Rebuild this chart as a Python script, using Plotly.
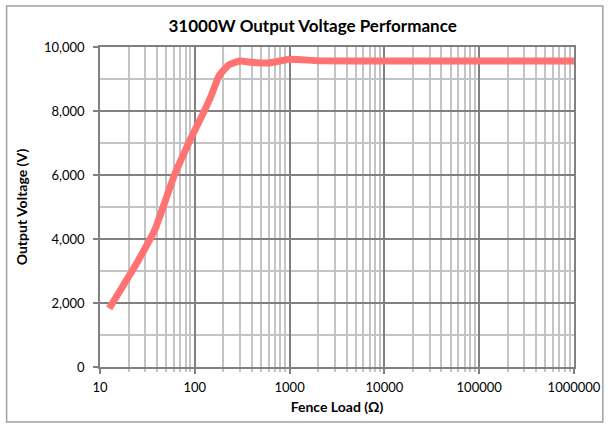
import plotly.graph_objects as go

load_ohm = [12.5, 25, 38, 61, 100, 126, 150, 180, 230, 300, 400, 600, 1000, 2000, 10000, 100000, 1000000]
voltage = [1830, 3300, 4300, 6000, 7400, 8000, 8500, 9100, 9450, 9560, 9520, 9500, 9620, 9570, 9560, 9560, 9560]

x_tickvals = [10, 100, 1000, 10000, 100000, 1000000]
x_ticktext = ["10", "100", "1000", "10000", "100000", "1000000"]

FONT = "Lato, 'Open Sans', sans-serif"
MAJOR = "#808080"
MINOR = "#c4c4c4"

fig = go.Figure()
fig.add_trace(go.Scatter(x=load_ohm, y=voltage, mode="lines",
                         line=dict(color="#ff7373", width=7, shape="spline", smoothing=0.4),
                         hoverinfo="skip", showlegend=False))

fig.update_layout(
    width=613, height=428,
    margin=dict(l=100, r=36, t=47, b=61),
    paper_bgcolor="white", plot_bgcolor="white",
    font=dict(family=FONT, size=13, color="#000"),
    title=dict(text="<b>31000W Output Voltage Performance</b>", x=0.51, xref="container",
               y=0.94, yref="container", xanchor="center", yanchor="middle",
               font=dict(size=17, family=FONT)),
    xaxis=dict(type="log", range=[1, 6], tickvals=x_tickvals, ticktext=x_ticktext,
               showgrid=True, gridcolor=MAJOR, gridwidth=1.5,
               showline=True, linecolor=MAJOR, linewidth=1.5, mirror=True,
               ticks="outside", ticklen=5, tickcolor=MAJOR, tickwidth=1.5,
               tickfont=dict(size=13), zeroline=False, ticklabelstandoff=3,
               minor=dict(dtick="D1", showgrid=True, gridcolor=MINOR, gridwidth=1.5,
                          ticks="outside", ticklen=3, tickcolor=MINOR),
               title=dict(text="<b>Fence Load (Ω)</b>", font=dict(size=14), standoff=8)),
    yaxis=dict(range=[0, 10000], dtick=2000, tickformat=",",
               showgrid=True, gridcolor=MAJOR, gridwidth=1.5,
               showline=True, linecolor=MAJOR, linewidth=1.5, mirror=True,
               ticks="outside", ticklen=5, tickcolor=MAJOR, tickwidth=1.5,
               tickfont=dict(size=13), zeroline=False, ticklabelstandoff=6,
               minor=dict(dtick=1000, showgrid=True, gridcolor=MINOR, gridwidth=1.5),
               title=dict(text="<b>Output Voltage (V)</b>", font=dict(size=14), standoff=13)),
    shapes=[dict(type="rect", xref="paper", yref="paper",
                 x0=(6 - 100) / 477, x1=(606 - 100) / 477,
                 y0=(6 - 61) / 320, y1=(422 - 61) / 320,
                 line=dict(color="#a0a0a0", width=1.5), fillcolor="rgba(0,0,0,0)", layer="below")],
)

fig.write_html("out.html", config={"displayModeBar": False},
               post_script="document.body.style.margin='0';document.body.style.overflow='hidden';")
